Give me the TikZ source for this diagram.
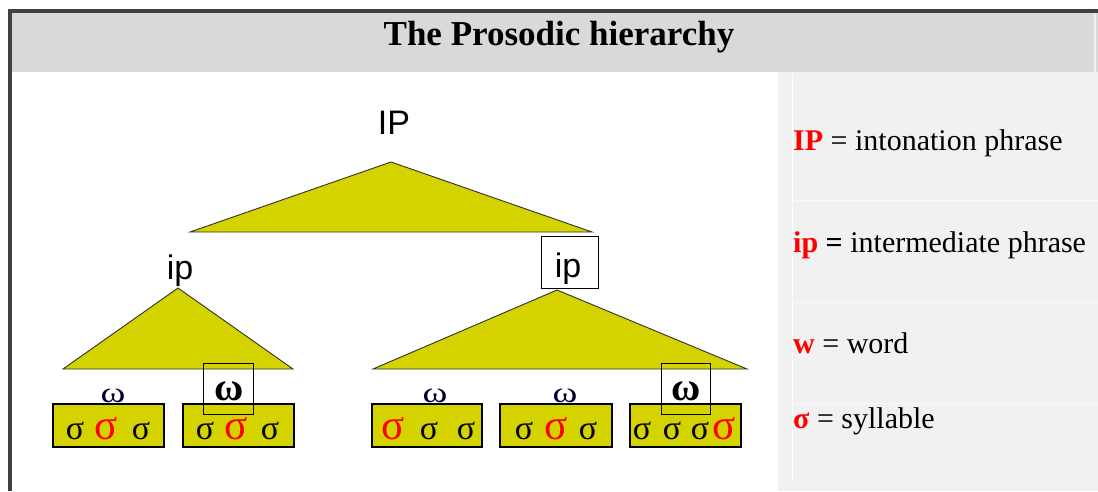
\documentclass[tikz,border=0pt]{standalone}
\usepackage{fontspec}
\setmainfont{Liberation Serif}
\newfontfamily\arialfont{Liberation Sans}
\definecolor{framegray}{HTML}{404040}
\definecolor{headgray}{HTML}{D9D9D9}
\definecolor{legendgray}{HTML}{F1F1F1}
\definecolor{olive}{HTML}{D4D300}
\definecolor{edge}{HTML}{303030}
\tikzset{
  tri/.style={fill=olive, draw=edge, line width=0.9pt, line join=miter},
  wordbox/.style={fill=olive, draw=black, line width=1.3pt},
  markbox/.style={draw=black, line width=0.9pt},
  treelbl/.style={inner sep=0pt, anchor=base, font=\arialfont\fontsize{34}{36}\selectfont},
  sig/.style={inner sep=0pt, anchor=base, font=\fontsize{34}{36}\selectfont},
  bigsig/.style={inner sep=0pt, anchor=base, text=red, font=\fontsize{43}{45}\selectfont},
  smallw/.style={inner sep=0pt, anchor=base, text=black!80!blue, font=\fontsize{29}{31}\selectfont},
  bigw/.style={inner sep=0pt, anchor=base, font=\bfseries\fontsize{40}{42}\selectfont},
  legend/.style={inner sep=0pt, anchor=base west, font=\fontsize{30}{34}\selectfont}
}
\begin{document}
\begin{tikzpicture}[x=1pt,y=-1pt]
\useasboundingbox (0,0) rectangle (1098,491);
\fill[white] (0,0) rectangle (1098,491);

% panels: header band, legend column, outer frame
\fill[headgray] (12,13) rectangle (1098,72);
\fill[white!60!headgray] (1094,13) rectangle (1096,72);
\fill[legendgray] (778,72) rectangle (1098,491);
\draw[white, line width=0.8pt] (792,73) -- (792,480);
\foreach \yy in {200,302,403}
  \draw[white!55!legendgray, line width=0.8pt] (792,\yy) -- (1098,\yy);
\fill[framegray] (8,9) rectangle (1098,13);
\fill[framegray] (8,9) rectangle (12,491);

\node[inner sep=0pt, anchor=base, font=\bfseries\fontsize{35}{38}\selectfont] (title) at (559,45) {The Prosodic hierarchy};

% tree labels
\node[treelbl] (IP) at (394,134) {IP};
\node[treelbl] (ipL) at (180,279) {ip};
\node[treelbl] (ipR) at (568,277) {ip};
\node[markbox, minimum width=57pt, minimum height=52pt, inner sep=0pt] (ipRbox) at (570,262.5) {};

% triangles
\coordinate (topA) at (391,162);
\coordinate (topL) at (190,232);
\coordinate (topR) at (592,232);
\draw[tri] (topA) -- (topL) -- (topR) -- cycle;
\coordinate (lA) at (178,288);
\coordinate (lL) at (63,369);
\coordinate (lR) at (293,369);
\draw[tri] (lA) -- (lL) -- (lR) -- cycle;
\coordinate (rA) at (557,290);
\coordinate (rL) at (373,369);
\coordinate (rR) at (747,369);
\draw[tri] (rA) -- (rL) -- (rR) -- cycle;

% word boxes
\draw[wordbox] (53,404) rectangle (164,447) coordinate (wb1);
\draw[wordbox] (183,404) rectangle (294,447) coordinate (wb2);
\draw[wordbox] (372,404) rectangle (482,447) coordinate (wb3);
\draw[wordbox] (500,404) rectangle (612,447) coordinate (wb4);
\draw[wordbox] (630,404) rectangle (741,447) coordinate (wb5);

% word labels
\node[smallw] (w1) at (113,402) {\scalebox{1.3}[1]{ω}};
\node[smallw] (w3) at (435,402) {\scalebox{1.3}[1]{ω}};
\node[smallw] (w4) at (565,402) {\scalebox{1.3}[1]{ω}};
\node[bigw] (w2) at (229,400) {ω};
\node[bigw] (w5) at (686,400) {ω};
\draw[markbox] (203,363) rectangle (253,414) coordinate (wbox2);
\draw[markbox] (661,363) rectangle (710,414) coordinate (wbox5);

% syllables
\node[sig] (s11) at (75,439) {σ};
\node[bigsig] (s12) at (106,439) {σ};
\node[sig] (s13) at (141,439) {σ};
\node[sig] (s21) at (205,439) {σ};
\node[bigsig] (s22) at (236,439) {σ};
\node[sig] (s23) at (270,439) {σ};
\node[bigsig] (s31) at (393,439) {σ};
\node[sig] (s32) at (429,439) {σ};
\node[sig] (s33) at (466,439) {σ};
\node[sig] (s41) at (524,439) {σ};
\node[bigsig] (s42) at (556,439) {σ};
\node[sig] (s43) at (588,439) {σ};
\node[sig] (s51) at (642,439) {σ};
\node[sig] (s52) at (672,439) {σ};
\node[sig] (s53) at (700,439) {σ};
\node[bigsig] (s54) at (724,439) {σ};

% legend
\node[legend] (lg1) at (793,150) {{\color{red}\bfseries IP} = intonation phrase};
\node[legend] (lg2) at (793,252) {{\color{red}\bfseries ip} {\bfseries =} intermediate phrase};
\node[legend] (lg3) at (793,353) {{\color{red}\bfseries w} = word};
\node[legend] (lg4) at (793,428) {{\color{red}\bfseries σ} = syllable};
\end{tikzpicture}
\end{document}
